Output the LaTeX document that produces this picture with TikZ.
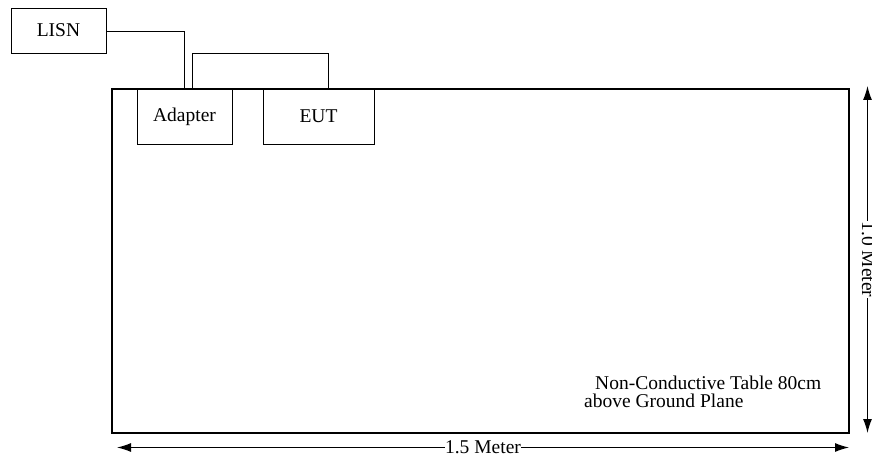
\documentclass[tikz,border=0pt]{standalone}
\usepackage{fontspec}
\setmainfont{Liberation Serif}
\usetikzlibrary{arrows.meta}
\begin{document}
\begin{tikzpicture}[x=1pt,y=-1pt,
  txt/.style={font=\fontsize{19.5}{22}\selectfont},
  box/.style={draw,line width=0.8pt,inner sep=0pt,txt},
  wire/.style={line width=0.8pt},
  dim/.style={line width=1.2pt,{Latex[length=14pt,width=9pt]}-{Latex[length=14pt,width=9pt]}},
  lbl/.style={txt,fill=white,inner sep=0.5pt}]
\useasboundingbox (0,0) rectangle (872,457);
\draw[line width=1.8pt] (112,89) rectangle (849,433);
\node[box,fill=white,minimum width=95pt,minimum height=55pt] (adp) at (184.5,116.5) {Adapter};
\node[box,fill=white,minimum width=111pt,minimum height=55pt] (eut) at (318.5,116.5) {EUT};
\node[box,minimum width=95pt,minimum height=45pt] (lisn) at (58.5,30.5) {LISN};
\coordinate (c1) at (184,89);
\coordinate (c2) at (192,89);
\coordinate (c3) at (328,89);
\draw[wire] (lisn.east |- 0,31) -- (184,31) -- (c1);
\draw[wire] (c2) -- (192,53) -- (328,53) -- (c3);
\coordinate (hl) at (117,447.5);
\coordinate (hr) at (849,447.5);
\draw[dim] (hl) -- node[lbl] {1.5 Meter} (hr);
\coordinate (vt) at (867.5,86);
\coordinate (vb) at (867.5,433);
\draw[dim] (vt) -- node[lbl,rotate=-90,yshift=1pt] {1.0 Meter} (vb);
\node[txt,anchor=west,inner sep=0pt] (t1) at (595,383) {Non-Conductive Table 80cm};
\node[txt,anchor=west,inner sep=0pt] (t2) at (584,401) {above Ground Plane};
\end{tikzpicture}
\end{document}
